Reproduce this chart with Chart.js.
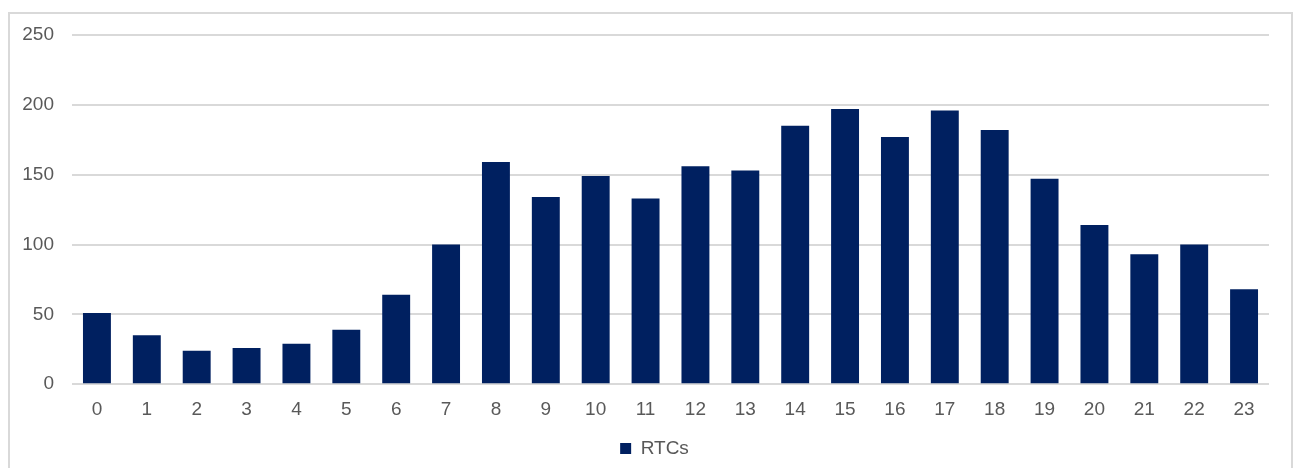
<!DOCTYPE html>
<html>
<head>
<meta charset="utf-8">
<script src="https://cdn.jsdelivr.net/npm/chart.js@4/dist/chart.umd.min.js"></script>
<style>
  body { margin: 0; background: #fff; }
  .frame {
    position: absolute; left: 8px; top: 12px; width: 1285px; height: 470px;
    border: 2px solid #d9d9d9; box-sizing: border-box;
  }
  .wrap { position: absolute; left: 0; top: 0; width: 1298px; height: 468px; }
</style>
</head>
<body>
<div class="frame"></div>
<div class="wrap"><canvas id="rtcChart" width="1298" height="468"></canvas></div>
<script>
const hours = ['0','1','2','3','4','5','6','7','8','9','10','11','12','13','14','15','16','17','18','19','20','21','22','23'];
const rtcCounts = [51, 35, 24, 26, 29, 39, 64, 100, 159, 134, 149, 133, 156, 153, 185, 197, 177, 196, 182, 147, 114, 93, 100, 68];
const yTicks = [0, 50, 100, 150, 200, 250];

const NAVY = '#002060';
const TEXT = '#595959';
const GRID = '#d9d9d9';

Chart.defaults.font.family = '"Liberation Sans", Arial, sans-serif';
Chart.defaults.font.size = 19;
Chart.defaults.color = TEXT;

// centre the legend under the plot area rather than the whole canvas
const legendUnderPlot = {
    id: 'legendUnderPlot',
    afterLayout(chart) {
        if (chart.legend) chart.legend.left = chart.chartArea.left - 32;
    }
};

const ctx = document.getElementById('rtcChart').getContext('2d');
const rtcChart = new Chart(ctx, {
    type: 'bar',
    data: {
        labels: hours,
        datasets: [{
            label: 'RTCs',
            data: rtcCounts,
            backgroundColor: NAVY,
            borderWidth: 0,
            barPercentage: 0.56,
            categoryPercentage: 1.0
        }]
    },
    options: {
        responsive: false,
        animation: false,
        layout: {
            padding: { left: 0, right: 29, top: 35, bottom: 0 }
        },
        scales: {
            x: {
                grid: { display: false, drawTicks: false },
                border: { display: false },
                ticks: { padding: 14, maxRotation: 0, autoSkip: false }
            },
            y: {
                min: 0,
                max: 250,
                afterBuildTicks: (scale) => {
                    scale.ticks = yTicks.map(v => ({ value: v }));
                },
                afterFit: (scale) => { scale.width = 72; },
                grid: { color: GRID, lineWidth: 2, drawTicks: false },
                border: { display: false },
                ticks: { padding: 18 }
            }
        },
        plugins: {
            legend: {
                position: 'bottom',
                labels: {
                    boxWidth: 11,
                    boxHeight: 11,
                    padding: 4
                }
            },
            tooltip: { enabled: false }
        }
    },
    plugins: [legendUnderPlot]
});
</script>
</body>
</html>
